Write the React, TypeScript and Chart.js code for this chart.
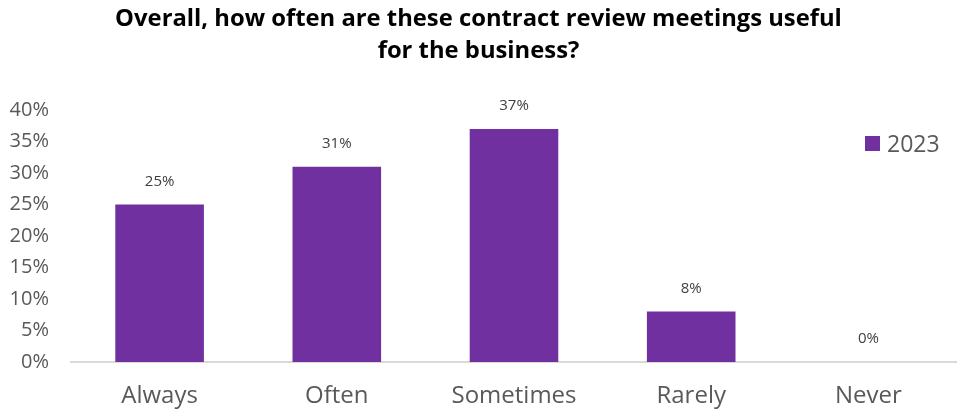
import React, { useEffect, useRef } from "react";
import { Chart, registerables } from "chart.js";

Chart.register(...registerables);

const categories = ["Always", "Often", "Sometimes", "Rarely", "Never"];
const values2023 = [25, 31, 37, 8, 0];
const seriesName = "2023";
const titleLines = [
  "Overall, how often are these contract review meetings useful",
  "for the business?",
];

const FONT = "'Open Sans', sans-serif";
const PURPLE = "#7030A0";

const dataLabels = {
  id: "dataLabels",
  afterDatasetsDraw(chart: any) {
    const ctx = chart.ctx;
    const meta = chart.getDatasetMeta(0);
    ctx.save();
    ctx.font = `15px ${FONT}`;
    ctx.fillStyle = "#404040";
    ctx.textAlign = "center";
    ctx.textBaseline = "middle";
    meta.data.forEach((bar: any, i: number) => {
      ctx.fillText(`${values2023[i]}%`, bar.x, bar.y - 23);
    });
    ctx.restore();
  },
};

export default function App() {
  const ref = useRef<HTMLCanvasElement>(null);
  useEffect(() => {
    if (!ref.current) return;
    const chart = new Chart(ref.current, {
      type: "bar",
      data: {
        labels: categories,
        datasets: [
          {
            label: seriesName,
            data: values2023,
            backgroundColor: PURPLE,
            categoryPercentage: 1,
            barPercentage: 0.5,
          },
        ],
      },
      options: {
        animation: false,
        responsive: true,
        maintainAspectRatio: false,
        layout: { padding: { top: 110, right: 0, left: 0, bottom: 0 } },
        plugins: {
          legend: { display: false },
          title: { display: false },
          tooltip: { enabled: false },
        },
        scales: {
          y: {
            min: 0,
            max: 40,
            ticks: {
              stepSize: 5,
              callback: (v: any) => `${v}%`,
              color: "#595959",
              font: { size: 20, family: FONT },
              padding: 22,
            },
            grid: { display: false, drawTicks: false },
            border: { display: false },
            afterFit: (s: any) => {
              s.width = 71;
            },
          },
          x: {
            ticks: {
              color: "#595959",
              font: { size: 24, family: FONT },
              padding: 20,
            },
            grid: { display: false, drawTicks: false },
            border: { display: true, color: "#d9d9d9", width: 2 },
            afterFit: (s: any) => {
              s.height = 50;
            },
          },
        },
      },
      plugins: [dataLabels],
    });
    return () => chart.destroy();
  }, []);

  return (
    <div
      style={{
        position: "fixed",
        left: 0,
        top: 0,
        width: 957,
        height: 412,
        background: "#fff",
        fontFamily: FONT,
      }}
    >
      <canvas ref={ref} />
      <div
        style={{
          position: "absolute",
          left: 0,
          top: 1,
          width: 957,
          textAlign: "center",
          fontWeight: 700,
          fontSize: 23.8,
          lineHeight: "32px",
          color: "#000",
          pointerEvents: "none",
        }}
      >
        {titleLines.map((l) => (
          <div key={l}>{l}</div>
        ))}
      </div>
      <div
        style={{
          position: "absolute",
          left: 865,
          top: 127,
          display: "flex",
          alignItems: "center",
          fontSize: 23,
          color: "#595959",
        }}
      >
        <span
          style={{
            display: "inline-block",
            width: 15,
            height: 15,
            background: PURPLE,
            marginRight: 7,
          }}
        />
        <span>{seriesName}</span>
      </div>
    </div>
  );
}
